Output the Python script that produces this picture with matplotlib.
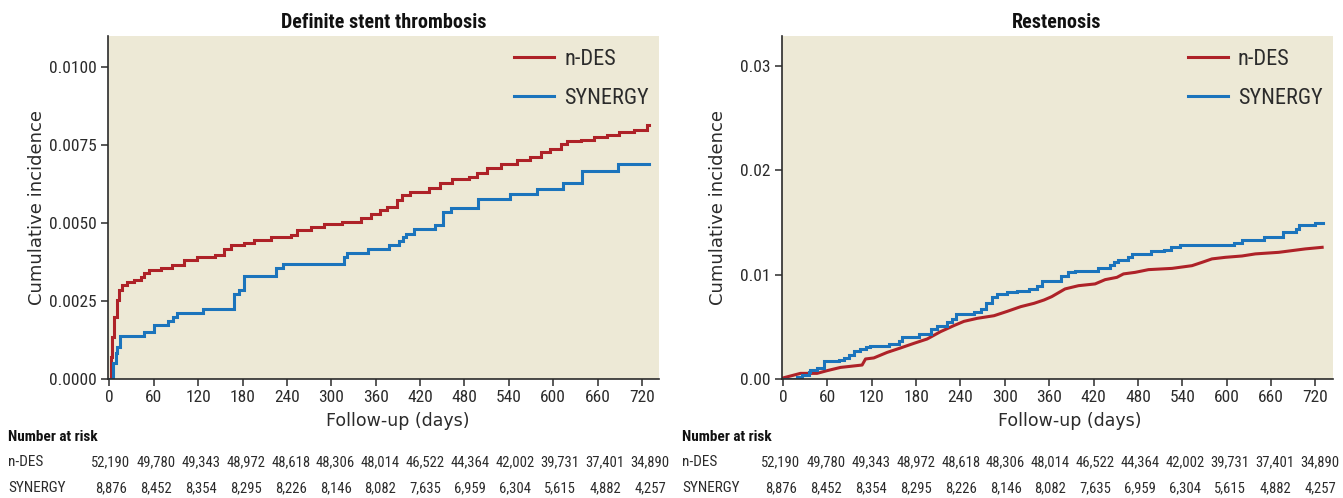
import matplotlib
matplotlib.use('Agg')
import matplotlib.pyplot as plt
from matplotlib import font_manager as fm
from matplotlib.font_manager import FontProperties

# ---------------- data ----------------
st_ndes_days = [0, 2, 4, 6, 10, 13, 17.6, 24, 33, 42.5, 47, 54, 70, 85, 101, 119, 142, 155, 164, 182,
                196, 218, 245, 254, 272, 290, 315, 340, 354, 366, 375, 389, 396, 407, 432, 447, 463, 486,
                497, 511, 529, 551, 569, 583, 596, 610, 619, 637, 655, 673, 689, 709, 725, 727, 729]
st_ndes_vals = [0, 0.00071, 0.00136, 0.0020, 0.00253, 0.00285, 0.00301, 0.00311, 0.00317, 0.00328,
                0.00339, 0.00349, 0.00355, 0.00365, 0.00381, 0.00392, 0.00397, 0.00416, 0.00429, 0.00435,
                0.00445, 0.00454, 0.00462, 0.00478, 0.00488, 0.00497, 0.00504, 0.00515, 0.00529, 0.00542,
                0.00552, 0.00574, 0.0059, 0.0060, 0.00611, 0.00627, 0.00643, 0.00648, 0.00661, 0.00678,
                0.00691, 0.00702, 0.00712, 0.00729, 0.00739, 0.00755, 0.00764, 0.00768, 0.00777, 0.00782,
                0.00792, 0.00798, 0.0080, 0.00814, 0.00814]

st_syn_days = [0, 2, 5.4, 8.6, 10.8, 14, 47, 60.5, 78.5, 85.3, 91.2, 125.8, 167.8, 175.5, 181.3, 225.2,
               235, 316.6, 320.7, 349, 377.5, 392, 397, 401.5, 411.4, 439.8, 451, 462, 498, 541.8, 578.3,
               612.6, 638.3, 688, 729.4]
st_syn_vals = [0, 0, 0.0005, 0.00082, 0.00104, 0.00139, 0.00152, 0.00174, 0.00187, 0.0020, 0.00211,
               0.00223, 0.00271, 0.00285, 0.0033, 0.00357, 0.00369, 0.00392, 0.00404, 0.00417, 0.00429,
               0.00442, 0.00455, 0.00466, 0.00481, 0.00494, 0.00534, 0.00548, 0.00578, 0.00592, 0.0061,
               0.0063, 0.00667, 0.0069, 0.0069]

rs_ndes_days = [0, 23.6, 46, 59.6, 77.7, 107, 111.6, 122.8, 140.8, 159, 177, 195, 213, 231, 244.7, 262.7,
                285.3, 303.3, 321.5, 339.5, 353, 363.4, 381.4, 399.5, 422, 435.6, 451.5, 460.4, 476.2,
                494.2, 526, 553, 566.6, 580, 598, 620.7, 638.7, 670.3, 706.4, 729]
rs_ndes_vals = [0.0001, 0.00054, 0.00054, 0.0008, 0.00111, 0.00134, 0.00192, 0.00202, 0.00255, 0.00298,
                0.00342, 0.00384, 0.00454, 0.00512, 0.00553, 0.00582, 0.00607, 0.00649, 0.00694, 0.00726,
                0.00758, 0.0079, 0.00864, 0.00895, 0.00912, 0.00953, 0.00975, 0.01008, 0.01023, 0.01049,
                0.01061, 0.01087, 0.01119, 0.01152, 0.01167, 0.0118, 0.012, 0.01215, 0.01248, 0.01263]

rs_syn_days = [0, 16, 19, 25.7, 34.8, 36, 46, 55, 75.4, 82.2, 89, 95.7, 104.8, 111.6, 118.3, 143, 156.7,
               161, 183.7, 199.6, 208.5, 222, 228.8, 233.4, 258.2, 267.3, 274, 283, 289.8, 303.3, 316.9,
               332.7, 344, 350.7, 376, 386, 395, 426.5, 442.4, 446.9, 453.6, 467, 471.8, 498, 514.6, 525,
               537, 609.4, 620.7, 650, 675.7, 693, 697.4, 719, 730.4]
rs_syn_vals = [0, 0, 0.00022, 0.00041, 0.00063, 0.00086, 0.00102, 0.00169, 0.00182, 0.00202, 0.00233,
               0.00265, 0.00288, 0.00307, 0.0032, 0.00336, 0.00368, 0.004, 0.00432, 0.0048, 0.00512,
               0.00543, 0.00576, 0.00624, 0.00646, 0.00672, 0.00726, 0.0079, 0.00816, 0.00831, 0.00847,
               0.00864, 0.00895, 0.00937, 0.00985, 0.01023, 0.01039, 0.01061, 0.01094, 0.01119, 0.01145,
               0.01174, 0.012, 0.01225, 0.01241, 0.01263, 0.01286, 0.01308, 0.01337, 0.01366, 0.01407,
               0.0144, 0.01478, 0.01497, 0.01497]

x_ticks = [0, 60, 120, 180, 240, 300, 360, 420, 480, 540, 600, 660, 720]
st_yticks = [0.0, 0.0025, 0.0050, 0.0075, 0.0100]
st_ylabels = ['0.0000', '0.0025', '0.0050', '0.0075', '0.0100']
rs_yticks = [0.0, 0.01, 0.02, 0.03]
rs_ylabels = ['0.00', '0.01', '0.02', '0.03']

series_names = ['n-DES', 'SYNERGY']
ndes_risk = ['52,190', '49,780', '49,343', '48,972', '48,618', '48,306', '48,014', '46,522',
             '44,364', '42,002', '39,731', '37,401', '34,890']
syn_risk = ['8,876', '8,452', '8,354', '8,295', '8,226', '8,146', '8,082', '7,635',
            '6,959', '6,304', '5,615', '4,882', '4,257']

titles = ['Definite stent thrombosis', 'Restenosis']


# ---------------- condensed font lookup ----------------
def _w(f):
    w = f.weight
    if isinstance(w, str):
        w = {'normal': 400, 'regular': 400, 'book': 400, 'medium': 500, 'bold': 700,
             'light': 300, 'semibold': 600, 'demibold': 600, 'heavy': 800, 'black': 900}.get(w, 400)
    return w


def _cond(f):
    nm = f.name.lower()
    st = f.stretch
    if 'narrow' in nm or 'condensed' in nm:
        return True
    if isinstance(st, str):
        return 'condensed' in st
    if isinstance(st, (int, float)):
        return st < 500
    return False


PREF = ['liberation sans narrow', 'roboto condensed', 'open sans condensed', 'noto sans condensed',
        'noto sans', 'dejavu sans condensed', 'dejavu sans', 'lato', 'inter']


def find_font(target_w):
    best, bscore = None, None
    for f in fm.fontManager.ttflist:
        if f.style != 'normal' or not _cond(f):
            continue
        nm = f.name.lower()
        if 'mono' in nm or ('serif' in nm and 'sans' not in nm) or 'cjk' in nm:
            continue
        fam_rank = len(PREF)
        for k, p in enumerate(PREF):
            if nm.startswith(p):
                fam_rank = k
                break
        st = f.stretch
        extra = 1 if (isinstance(st, str) and ('extra' in st or 'ultra' in st)) or \
            (isinstance(st, (int, float)) and st < 200) or 'extra' in nm else 0
        score = (extra, fam_rank, abs(_w(f) - target_w))
        if bscore is None or score < bscore:
            best, bscore = f, score
    return best


freg = find_font(400)
fbold = find_font(700)
if freg is not None:
    NARROW = FontProperties(fname=freg.fname)
    NARROW_B = FontProperties(fname=fbold.fname) if fbold is not None else FontProperties(fname=freg.fname, weight='bold')
    scale = 1.0
else:
    NARROW = FontProperties(family='DejaVu Sans')
    NARROW_B = FontProperties(family='DejaVu Sans', weight='bold')
    scale = 0.78


def fp(base, size):
    p = base.copy()
    p.set_size(size * scale)
    return p


REG = 'DejaVu Sans'
RED = '#AE2228'
BLUE = '#1B74BC'
BG = '#EDE9D6'
DARK = '#2B2B2B'

W, H = 1343, 498
fig = plt.figure(figsize=(W / 100, H / 100), dpi=100)


def fx(px):
    return px / W


def fy(py):
    return 1 - py / H


ax_left_px = [108, 781.5]
ax_w_px = 551
ax_top, ax_bot = 36, 379
ylabel_x_px = [37, 718]
xlabel_x_px = [398, 1070]
table_base = [0, 674]
num_first = [111, 781]
num_last = [650, 1320]

panels = [
    (st_ndes_days, st_ndes_vals, st_syn_days, st_syn_vals, st_yticks, st_ylabels, 0.0110, True),
    (rs_ndes_days, rs_ndes_vals, rs_syn_days, rs_syn_vals, rs_yticks, rs_ylabels, 0.0329, False),
]

for i, (nd, nv, sd, sv, yt, yl, ymax, red_steps) in enumerate(panels):
    L = ax_left_px[i]
    ax = fig.add_axes([fx(L), fy(ax_bot), ax_w_px / W, (ax_bot - ax_top) / H])
    ax.set_facecolor(BG)
    if red_steps:
        l1, = ax.plot(nd, nv, color=RED, lw=2.2, drawstyle='steps-post', solid_joinstyle='miter')
    else:
        l1, = ax.plot(nd, nv, color=RED, lw=2.2)
    l2, = ax.plot(sd, sv, color=BLUE, lw=2.2, drawstyle='steps-post', solid_joinstyle='miter')
    ax.set_xlim(-2, 743)
    ax.set_ylim(0, ymax)
    ax.set_xticks(x_ticks)
    ax.set_xticklabels([str(t) for t in x_ticks], fontproperties=fp(NARROW, 12.5), color=DARK)
    ax.set_yticks(yt)
    ax.set_yticklabels(yl, fontproperties=fp(NARROW, 12.5), color=DARK)
    for s in ['top', 'right']:
        ax.spines[s].set_visible(False)
    for s in ['left', 'bottom']:
        ax.spines[s].set_color(DARK)
        ax.spines[s].set_linewidth(1.2)
    ax.tick_params(direction='out', length=5, width=1.1, color=DARK, pad=3)
    ax.set_ylabel('Cumulative incidence', fontsize=13, family=REG, color=DARK)
    ax.yaxis.set_label_coords((ylabel_x_px[i] - L) / ax_w_px, 0.5)
    ax.yaxis.label.set_va('center')
    ax.set_xlabel('Follow-up (days)', fontsize=12.5, family=REG, color=DARK)
    ax.xaxis.set_label_coords((xlabel_x_px[i] - L) / ax_w_px, -(421 - ax_bot) / (ax_bot - ax_top))
    ax.xaxis.label.set_va('center')
    ax.set_title(titles[i], fontproperties=fp(NARROW_B, 14.5), color='#111111', pad=6)
    leg = ax.legend([l1, l2], series_names, loc='upper right', bbox_to_anchor=(0.99, 0.975),
                    frameon=False, handlelength=1.8, handletextpad=0.45, labelspacing=0.8,
                    borderaxespad=0.0, borderpad=0.2, prop=fp(NARROW, 16))
    for t in leg.get_texts():
        t.set_color(DARK)

    # number at risk table
    base = table_base[i]
    fig.text(fx(base + 8), fy(437), 'Number at risk', fontproperties=fp(NARROW_B, 11),
             color='#111111', va='center', ha='left')
    fig.text(fx(base + 8), fy(462), series_names[0], fontproperties=fp(NARROW, 11),
             color=DARK, va='center', ha='left')
    fig.text(fx(base + 8), fy(488), series_names[1], fontproperties=fp(NARROW, 11),
             color=DARK, va='center', ha='left')
    x0 = num_first[i]
    x1 = num_last[i]
    n = len(ndes_risk)
    for k in range(n):
        xp = x0 + (x1 - x0) * k / (n - 1)
        fig.text(fx(xp), fy(462), ndes_risk[k], fontproperties=fp(NARROW, 10.5),
                 color=DARK, va='center', ha='center')
        fig.text(fx(xp), fy(488), syn_risk[k], fontproperties=fp(NARROW, 10.5),
                 color=DARK, va='center', ha='center')

fig.savefig('out.png', dpi=100, facecolor='white')
